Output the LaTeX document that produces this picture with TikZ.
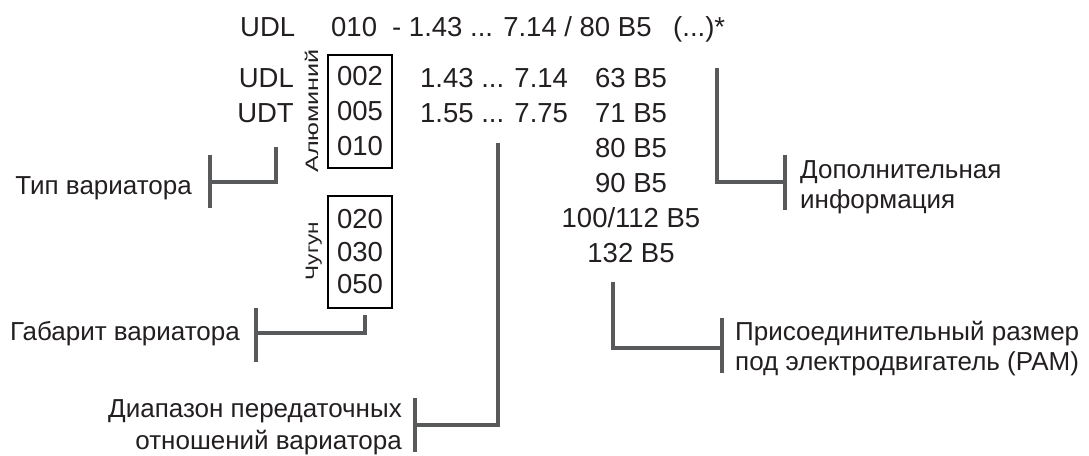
\documentclass[tikz,border=0pt]{standalone}
\usepackage{fontspec}
\setmainfont{Liberation Sans}
\definecolor{ink}{HTML}{231F20}
\definecolor{linegray}{HTML}{58595B}
\begin{document}
\begin{tikzpicture}[x=1pt,y=-1pt,
  code/.style={font=\fontsize{27.5}{35}\selectfont, inner sep=0pt, text=ink},
  lbl/.style={font=\fontsize{26}{30}\selectfont, inner sep=0pt, text=ink},
  mat/.style={font=\fontsize{18}{20}\selectfont, inner sep=0pt, text=ink, rotate=90, anchor=base},
  gline/.style={draw=linegray, line width=4pt},
  bx/.style={draw=black, line width=2pt, inner sep=0pt, minimum width=64pt, text=ink, align=center}]
\useasboundingbox (0,0) rectangle (1089,455);

% top line
\node[code, anchor=base west] (t1) at (240,36.5) {UDL};
\node[code, anchor=base west] (t2) at (331,36.5) {010};
\node[code, anchor=base west] (t3) at (392,36.5) {- 1.43 ... 7.14 / 80 B5};
\node[code, anchor=base west] (t4) at (673,36.5) {(...)*};

% type
\node[code, anchor=base east] (udl) at (294,87) {UDL};
\node[code, anchor=base east] (udt) at (294,122) {UDT};
\node[mat] (alu) at (318,111) {\scalebox{1.4}[1]{Алюминий}};
\node[mat] (chug) at (318,251) {\scalebox{1.25}[1]{Чугун}};

% boxes
\node[bx, minimum height=113pt, font=\fontsize{27.5}{35}\selectfont] (box1) at (360,111.5) {002\\005\\010};
\node[bx, minimum height=112pt, font=\fontsize{27.5}{32.5}\selectfont] (box2) at (360,252) {020\\030\\050};

% ratios
\node[code, anchor=base west] (r1) at (420,87) {1.43 ... 7.14};
\node[code, anchor=base west] (r2) at (420,122) {1.55 ... 7.75};

% flanges
\node[code, anchor=base] (p1) at (631,87) {63 B5};
\node[code, anchor=base] (p2) at (631,122) {71 B5};
\node[code, anchor=base] (p3) at (631,157) {80 B5};
\node[code, anchor=base] (p4) at (631,192) {90 B5};
\node[code, anchor=base] (p5) at (631,227) {100/112 B5};
\node[code, anchor=base] (p6) at (631,262) {132 B5};

% labels
\node[lbl, anchor=base east] (ltype) at (192,194) {Тип вариатора};
\node[lbl, anchor=base east] (lsize) at (240,340) {Габарит вариатора};
\node[lbl, anchor=base east] (lrange1) at (402,417) {Диапазон передаточных};
\node[lbl, anchor=base east] (lrange2) at (402,449) {отношений вариатора};
\node[lbl, anchor=base west] (ladd1) at (800,178) {Дополнительная};
\node[lbl, anchor=base west] (ladd2) at (800,208) {информация};
\node[lbl, anchor=base west] (lpam1) at (735,340) {Присоединительный размер};
\node[lbl, anchor=base west] (lpam2) at (735,370) {под электродвигатель (PAM)};

% bracket coordinates
\coordinate (typeA) at (276,147);
\coordinate (typeB) at (210,182);
\coordinate (typeT) at (210,155);
\coordinate (typeD) at (210,208);

\coordinate (sizeA) at (365,315);
\coordinate (sizeB) at (256,333);
\coordinate (sizeT) at (256,308);
\coordinate (sizeD) at (256,362);

\coordinate (rangeA) at (498,143);
\coordinate (rangeB) at (415,425);
\coordinate (rangeT) at (415,398);
\coordinate (rangeD) at (415,452);

\coordinate (addA) at (717,68);
\coordinate (addB) at (785,182);
\coordinate (addT) at (785,155);
\coordinate (addD) at (785,210);

\coordinate (pamA) at (613,282);
\coordinate (pamB) at (722,348);
\coordinate (pamT) at (722,318);
\coordinate (pamD) at (722,373);

\draw[gline] (typeA) |- (typeB);
\draw[gline] (typeT) -- (typeD);
\draw[gline] (sizeA) |- (sizeB);
\draw[gline] (sizeT) -- (sizeD);
\draw[gline] (rangeA) |- (rangeB);
\draw[gline] (rangeT) -- (rangeD);
\draw[gline] (addA) |- (addB);
\draw[gline] (addT) -- (addD);
\draw[gline] (pamA) |- (pamB);
\draw[gline] (pamT) -- (pamD);
\end{tikzpicture}
\end{document}
